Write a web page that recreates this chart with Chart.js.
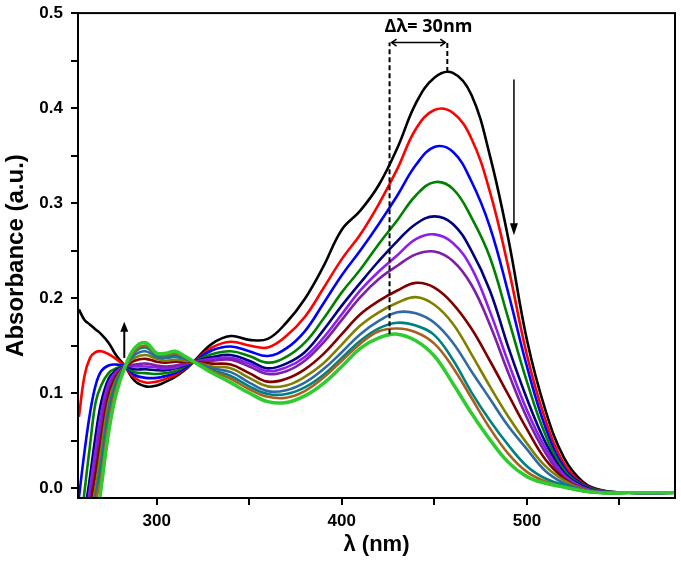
<!DOCTYPE html>
<html>
<head>
<meta charset="utf-8">
<script src="https://cdn.jsdelivr.net/npm/chart.js@4.4.1/dist/chart.umd.min.js"></script>
<style>
  html, body { margin: 0; padding: 0; background: #fff; }
  #wrap { width: 681px; height: 563px; position: relative; }
</style>
</head>
<body>
<div id="wrap"><canvas id="uvvis"></canvas></div>
<script>
// wavelength grid (nm)
const wavelengths = [258, 261, 264, 267, 270, 274, 278, 283, 288, 294, 300, 305, 310, 315, 320,
  330, 340, 350, 360, 370, 380, 390, 400, 410, 420, 430, 440, 450, 460, 470, 480, 490, 500,
  510, 520, 530, 540, 555, 580];

// absorbance of each successive scan
const abs01 = [0.188, 0.177, 0.172, 0.167, 0.162, 0.153, 0.140, 0.128, 0.113, 0.107, 0.108, 0.112, 0.117, 0.124, 0.133,
  0.152, 0.160, 0.156, 0.157, 0.174, 0.199, 0.233, 0.272, 0.292, 0.319, 0.358, 0.405, 0.432, 0.437, 0.414, 0.350, 0.262, 0.156,
  0.082, 0.032, 0.007, -0.002, -0.005, -0.005];
const abs02 = [0.075, 0.118, 0.137, 0.143, 0.144, 0.141, 0.136, 0.128, 0.116, 0.111, 0.112, 0.115, 0.119, 0.125, 0.133,
  0.148, 0.154, 0.150, 0.148, 0.160, 0.180, 0.210, 0.241, 0.267, 0.299, 0.336, 0.378, 0.398, 0.395, 0.368, 0.312, 0.232, 0.140,
  0.072, 0.026, 0.005, -0.003, -0.005, -0.005];
const abs03 = [-0.010, 0.038, 0.079, 0.108, 0.123, 0.129, 0.130, 0.128, 0.119, 0.116, 0.116, 0.118, 0.121, 0.126, 0.133,
  0.145, 0.149, 0.144, 0.139, 0.147, 0.165, 0.194, 0.224, 0.250, 0.278, 0.308, 0.340, 0.359, 0.354, 0.323, 0.275, 0.205, 0.128,
  0.064, 0.022, 0.004, -0.003, -0.005, -0.005];
const abs04 = [-0.060, -0.004, 0.045, 0.090, 0.108, 0.121, 0.126, 0.128, 0.122, 0.121, 0.120, 0.121, 0.123, 0.128, 0.133,
  0.141, 0.144, 0.139, 0.132, 0.138, 0.153, 0.178, 0.206, 0.230, 0.257, 0.282, 0.308, 0.322, 0.315, 0.285, 0.243, 0.178, 0.112,
  0.056, 0.019, 0.003, -0.003, -0.005, -0.005];
const abs05 = [-0.085, -0.030, 0.012, 0.055, 0.090, 0.115, 0.124, 0.128, 0.125, 0.125, 0.124, 0.124, 0.126, 0.129, 0.133,
  0.138, 0.140, 0.134, 0.126, 0.131, 0.143, 0.166, 0.192, 0.216, 0.239, 0.260, 0.278, 0.286, 0.278, 0.250, 0.208, 0.148, 0.094,
  0.048, 0.016, 0.002, -0.004, -0.005, -0.005];
const abs06 = [-0.100, -0.045, 0.000, 0.040, 0.078, 0.110, 0.122, 0.128, 0.128, 0.128, 0.127, 0.126, 0.127, 0.130, 0.133,
  0.136, 0.137, 0.131, 0.123, 0.127, 0.138, 0.158, 0.183, 0.208, 0.228, 0.245, 0.262, 0.267, 0.258, 0.232, 0.186, 0.132, 0.082,
  0.042, 0.014, 0.001, -0.004, -0.005, -0.005];
const abs07 = [-0.110, -0.058, -0.012, 0.025, 0.065, 0.104, 0.120, 0.128, 0.130, 0.131, 0.129, 0.128, 0.129, 0.131, 0.133,
  0.134, 0.135, 0.128, 0.120, 0.123, 0.134, 0.153, 0.177, 0.201, 0.220, 0.234, 0.246, 0.249, 0.239, 0.214, 0.172, 0.121, 0.074,
  0.037, 0.011, -0.001, -0.004, -0.005, -0.005];
const abs08 = [-0.120, -0.070, -0.022, 0.015, 0.052, 0.097, 0.117, 0.128, 0.134, 0.136, 0.133, 0.132, 0.133, 0.133, 0.133,
  0.131, 0.130, 0.121, 0.112, 0.115, 0.125, 0.141, 0.162, 0.183, 0.197, 0.208, 0.216, 0.211, 0.194, 0.168, 0.134, 0.098, 0.062,
  0.030, 0.010, -0.001, -0.005, -0.005, -0.005];
const abs09 = [-0.130, -0.080, -0.032, 0.000, 0.040, 0.090, 0.114, 0.128, 0.137, 0.140, 0.136, 0.134, 0.135, 0.134, 0.133,
  0.128, 0.126, 0.116, 0.107, 0.108, 0.117, 0.131, 0.151, 0.171, 0.185, 0.195, 0.201, 0.193, 0.173, 0.141, 0.107, 0.075, 0.047,
  0.023, 0.008, -0.001, -0.005, -0.005, -0.005];
const abs10 = [-0.140, -0.090, -0.042, -0.008, 0.028, 0.082, 0.111, 0.128, 0.140, 0.144, 0.138, 0.137, 0.138, 0.136, 0.133,
  0.126, 0.122, 0.111, 0.102, 0.103, 0.111, 0.125, 0.143, 0.162, 0.176, 0.185, 0.184, 0.174, 0.153, 0.123, 0.094, 0.065, 0.041,
  0.018, 0.005, -0.002, -0.005, -0.005, -0.005];
const abs11 = [-0.150, -0.100, -0.050, -0.012, 0.020, 0.075, 0.108, 0.128, 0.143, 0.148, 0.140, 0.139, 0.140, 0.137, 0.133,
  0.124, 0.118, 0.107, 0.099, 0.099, 0.106, 0.119, 0.137, 0.155, 0.168, 0.174, 0.171, 0.161, 0.135, 0.101, 0.071, 0.045, 0.023,
  0.010, 0.003, -0.003, -0.005, -0.005, -0.005];
const abs12 = [-0.160, -0.110, -0.060, -0.016, 0.012, 0.068, 0.104, 0.128, 0.144, 0.150, 0.141, 0.140, 0.142, 0.138, 0.133,
  0.123, 0.115, 0.104, 0.096, 0.095, 0.102, 0.116, 0.134, 0.152, 0.165, 0.168, 0.164, 0.152, 0.127, 0.095, 0.063, 0.036, 0.017,
  0.007, 0.001, -0.003, -0.005, -0.005, -0.005];
const abs13 = [-0.170, -0.120, -0.075, -0.045, 0.000, 0.058, 0.098, 0.128, 0.147, 0.153, 0.142, 0.142, 0.144, 0.139, 0.133,
  0.121, 0.111, 0.100, 0.091, 0.090, 0.097, 0.110, 0.128, 0.147, 0.158, 0.162, 0.155, 0.139, 0.110, 0.079, 0.051, 0.027, 0.012,
  0.005, 0.001, -0.003, -0.005, -0.005, -0.005];

const scans = [abs01, abs02, abs03, abs04, abs05, abs06, abs07, abs08, abs09, abs10, abs11, abs12, abs13];
const lineColors = ['#000000', '#ff0000', '#0000ff', '#008000', '#000080', '#8a1ff0', '#7d1fa8',
  '#800000', '#808000', '#2f6aa6', '#008080', '#a8601e', '#2ecc2e'];

// axis ticks
const xTickValues = [300, 350, 400, 450, 500, 550];
const xTickLabels = [300, 400, 500];
const yTickValues = [0, 0.05, 0.1, 0.15, 0.2, 0.25, 0.3, 0.35, 0.4, 0.45, 0.5];
const yTickLabels = [0, 0.1, 0.2, 0.3, 0.4, 0.5];

// annotation positions (nm / absorbance)
const shiftFrom = 425.8, shiftTo = 457, shiftTop = 0.469;
const shiftFromBottom = 0.162, shiftToBottom = 0.438;
const upArrow = { x: 282.5, from: 0.137, to: 0.175 };
const downArrow = { x: 493, from: 0.430, to: 0.266 };

function arrowHead(ctx, x, y, dir, len, half) {
  // dir: +1 pointing down, -1 pointing up
  ctx.beginPath();
  ctx.moveTo(x, y);
  ctx.lineTo(x - half, y - dir * len);
  ctx.lineTo(x + half, y - dir * len);
  ctx.closePath();
  ctx.fill();
}

const extras = {
  id: 'extras',
  afterDatasetsDraw(chart) {
    const { ctx, chartArea: a, scales: { x, y } } = chart;
    ctx.save();
    ctx.strokeStyle = '#000';
    ctx.fillStyle = '#000';

    // frame
    ctx.lineWidth = 2;
    ctx.strokeRect(a.left, a.top, a.right - a.left, a.bottom - a.top);

    // up arrow
    let px = x.getPixelForValue(upArrow.x);
    let y0 = y.getPixelForValue(upArrow.from), y1 = y.getPixelForValue(upArrow.to);
    ctx.lineWidth = 2;
    ctx.beginPath(); ctx.moveTo(px, y0); ctx.lineTo(px, y1 + 8); ctx.stroke();
    arrowHead(ctx, px, y1, -1, 10, 4);

    // down arrow
    px = x.getPixelForValue(downArrow.x);
    y0 = y.getPixelForValue(downArrow.from); y1 = y.getPixelForValue(downArrow.to);
    ctx.lineWidth = 1.5;
    ctx.beginPath(); ctx.moveTo(px, y0); ctx.lineTo(px, y1 - 8); ctx.stroke();
    arrowHead(ctx, px, y1, 1, 12, 4);

    // shift markers
    const xa = x.getPixelForValue(shiftFrom), xb = x.getPixelForValue(shiftTo);
    const yt = y.getPixelForValue(shiftTop);
    ctx.lineWidth = 2;
    ctx.setLineDash([5, 3]);
    ctx.beginPath();
    ctx.moveTo(xa, y.getPixelForValue(shiftFromBottom)); ctx.lineTo(xa, yt);
    ctx.moveTo(xb, y.getPixelForValue(shiftToBottom)); ctx.lineTo(xb, yt);
    ctx.stroke();
    ctx.setLineDash([]);
    ctx.lineWidth = 1.5;
    ctx.beginPath();
    ctx.moveTo(xa + 2, yt); ctx.lineTo(xb - 2, yt);
    ctx.moveTo(xa + 7, yt - 3.5); ctx.lineTo(xa + 2, yt); ctx.lineTo(xa + 7, yt + 3.5);
    ctx.moveTo(xb - 7, yt - 3.5); ctx.lineTo(xb - 2, yt); ctx.lineTo(xb - 7, yt + 3.5);
    ctx.stroke();

    ctx.font = 'bold 18px "Open Sans", sans-serif';
    ctx.textAlign = 'center';
    ctx.textBaseline = 'middle';
    ctx.fillText('Δλ= 30nm', (xa + xb) / 2 + 10, y.getPixelForValue(0.486));
    ctx.restore();
  }
};

new Chart(document.getElementById('uvvis'), {
  type: 'line',
  data: {
    datasets: scans.map((vals, i) => ({
      data: vals.map((v, k) => ({ x: wavelengths[k], y: v })),
      borderColor: lineColors[i],
      borderWidth: i === scans.length - 1 ? 3.5 : 2.6,
      pointRadius: 0,
      tension: 0.4,
      fill: false,
      clip: 0,
      order: scans.length - i
    }))
  },
  options: {
    responsive: true,
    maintainAspectRatio: false,
    animation: false,
    layout: { padding: { top: 13, right: 6, left: 0, bottom: 0 } },
    plugins: { legend: { display: false }, tooltip: { enabled: false } },
    scales: {
      x: {
        type: 'linear',
        min: 257.5,
        max: 580,
        afterBuildTicks: s => { s.ticks = xTickValues.map(v => ({ value: v })); },
        afterFit: s => { s.height = 65; },
        ticks: {
          autoSkip: false,
          maxRotation: 0,
          padding: 6,
          color: '#000',
          font: { family: 'Liberation Sans, Arial', size: 17, weight: 'bold' },
          callback: v => xTickLabels.includes(v) ? String(v) : ''
        },
        grid: { drawOnChartArea: false, color: '#000', lineWidth: 2, tickLength: 7 },
        border: { color: '#000', width: 2 },
        title: {
          display: true,
          text: 'λ (nm)',
          color: '#000',
          padding: { top: 0, bottom: 5 },
          font: { family: 'Liberation Sans, Arial', size: 22, weight: 'bold' }
        }
      },
      y: {
        min: -0.0105,
        max: 0.5,
        afterBuildTicks: s => { s.ticks = yTickValues.map(v => ({ value: v })); },
        afterFit: s => { s.width = 78; },
        ticks: {
          padding: 8,
          color: '#000',
          font: { family: 'Liberation Sans, Arial', size: 17, weight: 'bold', lineHeight: 0.6 },
          callback: v => yTickLabels.includes(v) ? v.toFixed(1) : ''
        },
        grid: { drawOnChartArea: false, color: '#000', lineWidth: 2, tickLength: 7 },
        border: { color: '#000', width: 2 },
        title: {
          display: true,
          text: 'Absorbance (a.u.)',
          color: '#000',
          padding: { top: 2, bottom: 0 },
          font: { family: 'Liberation Sans, Arial', size: 24, weight: 'bold' }
        }
      }
    }
  },
  plugins: [extras]
});
</script>
</body>
</html>
